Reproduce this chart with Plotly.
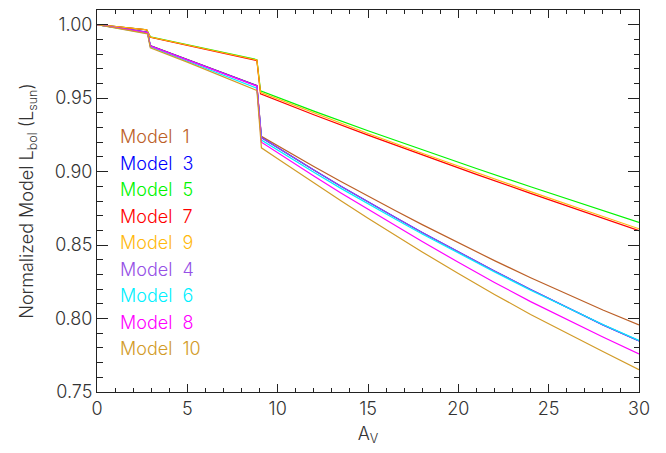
import plotly.graph_objects as go

# Extinction grid (A_V) for the two families of models
av_upper = [0, 2.75, 2.95, 5.0, 8.85, 9.05, 12, 15, 18, 21, 24, 27, 30]
av_lower = [0, 2.8, 2.95, 5.0, 8.85, 9.1, 10, 11, 12, 13.5, 15, 16.5, 18,
            20, 22, 24, 26, 28, 30]

# Normalized bolometric luminosity for each model
model_5 = [1.000, 0.9966, 0.9917, 0.9863, 0.9762, 0.9550, 0.9412, 0.9278, 0.9148, 0.9021, 0.8897, 0.8775, 0.8654]
model_7 = [1.000, 0.9965, 0.9914, 0.9860, 0.9756, 0.9530, 0.9387, 0.9248, 0.9113, 0.8981, 0.8852, 0.8724, 0.8598]
model_9 = [1.000, 0.9966, 0.9916, 0.9862, 0.9760, 0.9540, 0.9398, 0.9259, 0.9125, 0.8993, 0.8864, 0.8737, 0.8611]

model_1 = [1.000, 0.9948, 0.9858, 0.9763, 0.9586, 0.9240, 0.9176, 0.9105, 0.9035, 0.8933,
           0.8833, 0.8735, 0.8639, 0.8515, 0.8394, 0.8278, 0.8166, 0.8058, 0.7957]
model_3 = [1.000, 0.9948, 0.9857, 0.9762, 0.9585, 0.9232, 0.9163, 0.9086, 0.9011, 0.8901,
           0.8793, 0.8689, 0.8586, 0.8453, 0.8323, 0.8197, 0.8075, 0.7957, 0.7847]
model_4 = [1.000, 0.9948, 0.9857, 0.9762, 0.9585, 0.9232, 0.9163, 0.9086, 0.9011, 0.8901,
           0.8793, 0.8689, 0.8586, 0.8453, 0.8323, 0.8197, 0.8075, 0.7957, 0.7847]
model_6 = [1.000, 0.9940, 0.9850, 0.9752, 0.9568, 0.9215, 0.9146, 0.9070, 0.8995, 0.8886,
           0.8780, 0.8677, 0.8576, 0.8445, 0.8317, 0.8193, 0.8074, 0.7959, 0.7851]
model_8 = [1.000, 0.9945, 0.9855, 0.9760, 0.9582, 0.9200, 0.9128, 0.9048, 0.8970, 0.8855,
           0.8743, 0.8632, 0.8524, 0.8383, 0.8246, 0.8115, 0.7994, 0.7874, 0.7759]
model_10 = [1.000, 0.9938, 0.9842, 0.9745, 0.9552, 0.9162, 0.9088, 0.9005, 0.8923, 0.8802,
            0.8683, 0.8567, 0.8453, 0.8307, 0.8164, 0.8028, 0.7900, 0.7776, 0.7652]

names = ["Model 1", "Model 3", "Model 5", "Model 7", "Model 9",
         "Model 4", "Model 6", "Model 8", "Model 10"]
series = [model_1, model_3, model_5, model_7, model_9,
          model_4, model_6, model_8, model_10]
grids = [av_lower, av_lower, av_upper, av_upper, av_upper,
         av_lower, av_lower, av_lower, av_lower]
colors = ["rgb(188,96,40)", "rgb(0,0,255)", "rgb(0,245,0)", "rgb(255,0,0)",
          "rgb(255,185,15)", "rgb(150,80,230)", "rgb(0,240,255)",
          "rgb(255,0,255)", "rgb(210,155,40)"]

FONT = "Inter"
WEIGHT = 300
INK = "#333333"

fig = go.Figure()
for name, av, vals, col in zip(names, grids, series, colors):
    fig.add_trace(go.Scatter(x=av, y=vals, mode="lines", name=name,
                             line=dict(color=col, width=1.2),
                             showlegend=False, hoverinfo="skip"))

# In-plot key: coloured model names stacked down the left side
key_y0, key_dy = 0.9237, -0.01805
for i, (name, col) in enumerate(zip(names, colors)):
    num = name.split(" ")[1]
    fig.add_annotation(x=1.15, y=key_y0 + i * key_dy, xref="x", yref="y",
                       text="Model\u00a0\u00a0" + num, showarrow=False,
                       xanchor="left", yanchor="middle",
                       font=dict(family=FONT, size=18, color=col, weight=WEIGHT))

axis_common = dict(showline=True, linecolor="#222222", linewidth=1,
                   mirror="ticks", ticks="inside", tickcolor="#222222",
                   tickwidth=1, showgrid=False, zeroline=False,
                   tickfont=dict(family=FONT, size=18, color=INK, weight=WEIGHT))

fig.update_xaxes(range=[0, 30], tick0=0, dtick=5, ticklen=7.6,
                 minor=dict(dtick=1, ticklen=3.8, ticks="inside",
                            tickcolor="#222222", tickwidth=1),
                 title=dict(text="A<sub>V</sub>", standoff=9,
                            font=dict(family=FONT, size=18, color=INK, weight=WEIGHT)),
                 **axis_common)
fig.update_yaxes(range=[0.75, 1.01], tick0=0.75, dtick=0.05, ticklen=11,
                 tickformat=".2f",
                 minor=dict(dtick=0.01, ticklen=5.5, ticks="inside",
                            tickcolor="#222222", tickwidth=1),
                 title=dict(text="Normalized Model L<sub>bol</sub> (L<sub>sun</sub>)",
                            standoff=16,
                            font=dict(family=FONT, size=18, color=INK, weight=WEIGHT)),
                 **axis_common)

fig.update_layout(width=666, height=453,
                  margin=dict(l=97, r=27, t=10, b=61),
                  plot_bgcolor="white", paper_bgcolor="white")

fig.write_html("out.html")
